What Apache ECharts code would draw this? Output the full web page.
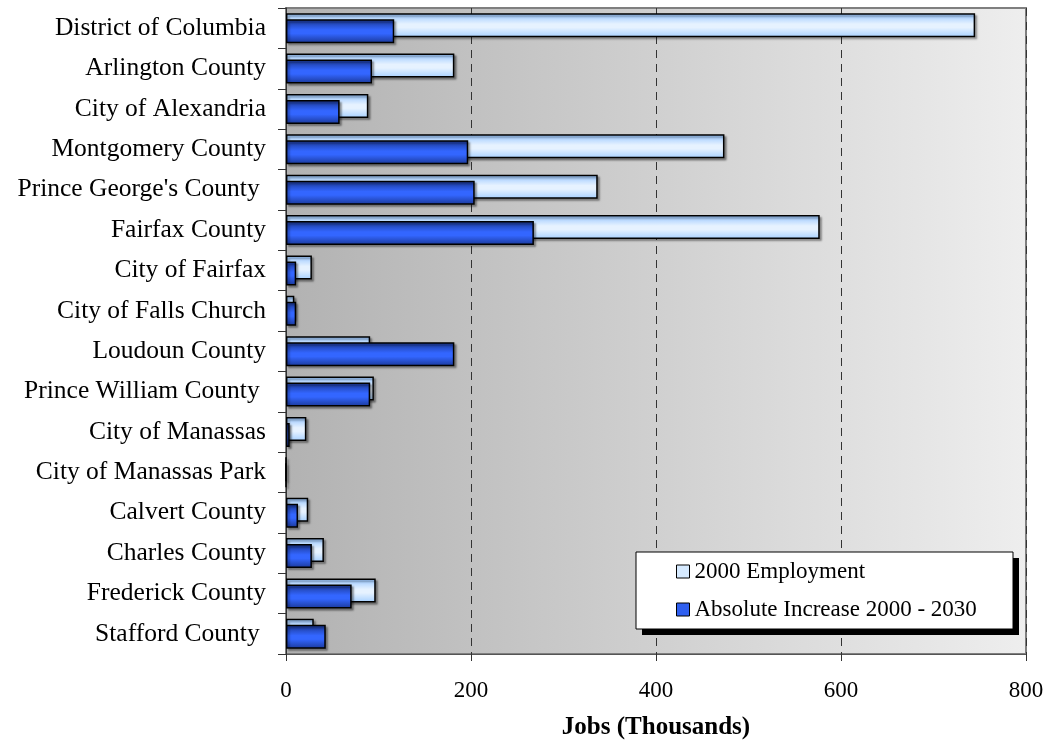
<!DOCTYPE html>
<html><head><meta charset="utf-8">
<script src="https://cdn.jsdelivr.net/npm/echarts@6/dist/echarts.min.js"></script>
<style>html,body{margin:0;padding:0;background:#fff}#c{width:1049px;height:743px}</style>
</head><body><div id="c"></div>
<script>
const categories = ['District of Columbia','Arlington County','City of Alexandria','Montgomery County',"Prince George's County ",'Fairfax County','City of Fairfax','City of Falls Church','Loudoun County','Prince William County ','City of Manassas','City of Manassas Park','Calvert County','Charles County','Frederick County','Stafford County '];
const employment2000 = [745,182,89,474,337,577,28,9,91,95,22,0,24,41,97,30];
const increase2000_2030 = [117,93,58,197,204,268,11,11,182,91,4,0,13,28,71,43];
const seriesNames = ['2000 Employment','Absolute Increase 2000 - 2030'];
const xMin = 0, xMax = 800, xStep = 200;

const FONT = 'Liberation Serif';
const lightFill = new echarts.graphic.LinearGradient(0,0,0,1,[
  {offset:0,color:'#94c4ff'},{offset:0.45,color:'#e6f2ff'},{offset:0.6,color:'#e6f2ff'},{offset:1,color:'#a6d0ff'}]);
const darkFill = new echarts.graphic.LinearGradient(0,0,0,1,[
  {offset:0,color:'#1a3690'},{offset:0.45,color:'#3366ff'},{offset:0.6,color:'#3366ff'},{offset:1,color:'#1a3898'}]);
const bg = new echarts.graphic.LinearGradient(0,0,1,0,[
  {offset:0,color:'#b2b2b2'},{offset:1,color:'#eeeeee'}]);

const chart = echarts.init(document.getElementById('c'), null, {renderer:'canvas'});
chart.setOption({
  animation:false,
  backgroundColor:'#ffffff',
  grid:{left:286,right:23,top:8,bottom:89,show:true,backgroundColor:bg,borderColor:'#7f7f7f',borderWidth:2,containLabel:false,outerBoundsMode:'none'},
  graphic:[
    {type:'rect',z:20,silent:true,shape:{x:642,y:558,width:377,height:77},style:{fill:'#000'}},
    {type:'rect',z:21,silent:true,shape:{x:636,y:552,width:377,height:77},style:{fill:'#fff',stroke:'#000',lineWidth:1}}
  ],
  legend:{
    z:30,
    orient:'vertical', left:676, top:560,
    padding:0, itemGap:15, itemWidth:13, itemHeight:13,
    textStyle:{fontFamily:FONT,fontSize:23,lineHeight:23,color:'#000'},
    data:[
      {name:seriesNames[0],icon:'rect',itemStyle:{color:'#d6eaff',borderColor:'#000',borderWidth:1}},
      {name:seriesNames[1],icon:'rect',itemStyle:{color:'#2f5fef',borderColor:'#000',borderWidth:1}}
    ]
  },
  xAxis:{
    type:'value', min:xMin, max:xMax, interval:xStep,
    name:'Jobs (Thousands)', nameLocation:'middle', nameGap:61,
    nameTextStyle:{fontFamily:FONT,fontSize:25,fontWeight:'bold',color:'#000'},
    axisLine:{show:true,lineStyle:{color:'#555',width:1}},
    axisTick:{show:true,length:7,lineStyle:{color:'#333'}},
    axisLabel:{fontFamily:FONT,fontSize:23,color:'#000',margin:25},
    splitLine:{show:true,lineStyle:{color:'#333',type:[8,6],width:1}}
  },
  yAxis:{
    type:'category', data:categories, inverse:true,
    axisLine:{show:true,lineStyle:{color:'#333',width:1}},
    axisTick:{show:true,length:8,lineStyle:{color:'#333'}},
    axisLabel:{fontFamily:FONT,fontSize:25.5,color:'#000',margin:20},
    splitLine:{show:false}
  },
  series:[
    {name:seriesNames[0],type:'bar',data:employment2000,barWidth:24,barGap:'-75%',
     itemStyle:{color:lightFill,borderColor:'#000',borderWidth:1.5,shadowColor:'rgba(0,0,0,0.35)',shadowOffsetX:2,shadowOffsetY:2,shadowBlur:2}},
    {name:seriesNames[1],type:'bar',data:increase2000_2030,barWidth:24,barGap:'-75%',
     itemStyle:{color:darkFill,borderColor:'#000',borderWidth:1.5,shadowColor:'rgba(0,0,0,0.35)',shadowOffsetX:2,shadowOffsetY:2,shadowBlur:2}}
  ]
});
</script></body></html>
